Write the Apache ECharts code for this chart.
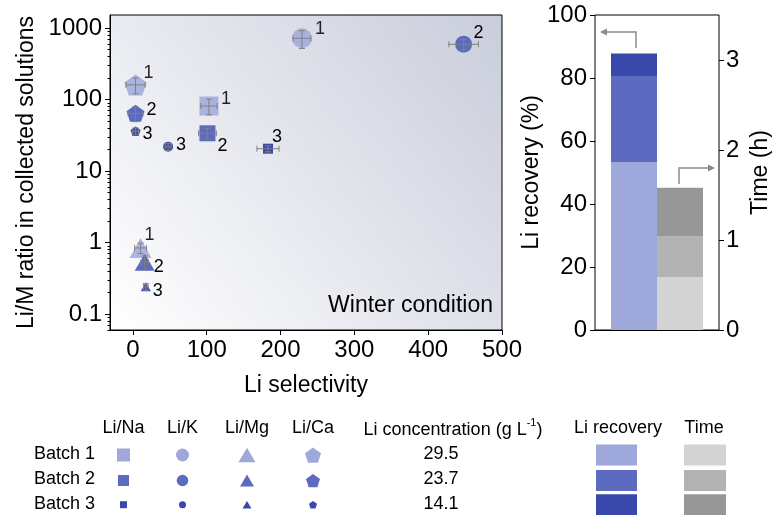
<!DOCTYPE html>
<html>
<head>
<meta charset="utf-8">
<script src="https://cdn.jsdelivr.net/npm/echarts@6/dist/echarts.min.js"></script>
<style>
html, body { margin: 0; padding: 0; background: #fff; }
#main { width: 773px; height: 515px; }
</style>
</head>
<body>
<div id="main"></div>
<script>
// ---- data ----
var batches = ['Batch 1', 'Batch 2', 'Batch 3'];
var batchNumbers = ['1', '2', '3'];
var ratioNames = ['Li/Na', 'Li/K', 'Li/Mg', 'Li/Ca'];

var naSelectivity = [103, 101, 183];
var naRatio = [81, 33.7, 20.5];
var naSelErr = [11, 12, 15];
var naRatioErr = [20, 5.5, 2];

var kSelectivity = [229, 448, 47.7];
var kRatio = [718, 592, 21.9];
var kSelErr = [12, 20, 4];
var kRatioErr = [200, 100, 2.5];

var mgSelectivity = [10.4, 16, 17.5];
var mgRatio = [0.84, 0.53, 0.24];
var mgSelErr = [8, 5, 3];
var mgRatioErr = [0.14, 0.12, 0.025];

var caSelectivity = [3.6, 3.6, 3.6];
var caRatio = [160, 64, 36];
var caSelErr = [13, 10, 4];
var caRatioErr = [40, 15, 4];

var liConcentration = ['29.5', '23.7', '14.1'];
var liRecovery = [53.3, 27.3, 7.2];
var timeHours = [0.59, 0.45, 0.54];

var xTickValues = [0, 100, 200, 300, 400, 500];
var yTickValues = [0.1, 1, 10, 100, 1000];
var recoveryTicks = [0, 20, 40, 60, 80, 100];
var timeTickValues = [0, 1, 2, 3];

// ---- styles ----
var FONT = 'Liberation Sans, Arial, sans-serif';
var batchColors = ['#9fa8da', '#5c6bc0', '#3949ab'];
var timeColors = ['#d3d3d3', '#b3b3b3', '#979797'];
var pentagon = 'path://M0,-1L0.951,-0.309L0.588,0.809L-0.588,0.809L-0.951,-0.309Z';

var groups = [
	{ name : ratioNames[0], symbol : 'rect', sel : naSelectivity, ratio : naRatio, selErr : naSelErr, ratioErr : naRatioErr,
	  sizes : [ 19, 16, 10 ], offsets : [ [ 17, -7 ], [ 15, 13 ], [ 9, -12 ] ] },
	{ name : ratioNames[1], symbol : 'circle', sel : kSelectivity, ratio : kRatio, selErr : kSelErr, ratioErr : kRatioErr,
	  sizes : [ 20, 17, 10 ], offsets : [ [ 18, -9 ], [ 15, -11 ], [ 13, -2 ] ] },
	{ name : ratioNames[2], symbol : 'triangle', sel : mgSelectivity, ratio : mgRatio, selErr : mgSelErr, ratioErr : mgRatioErr,
	  sizes : [ [ 22, 20 ], [ 20, 17 ], [ 10, 9 ] ], offsets : [ [ 9, -13 ], [ 14, 5 ], [ 12, 4 ] ] },
	{ name : ratioNames[3], symbol : pentagon, sel : caSelectivity, ratio : caRatio, selErr : caSelErr, ratioErr : caRatioErr,
	  sizes : [ [ 22, 21 ], [ 18, 17 ], [ 10, 9.5 ] ], offsets : [ [ 13, -12 ], [ 16, -3 ], [ 12, 3 ] ] }
];

var minorTicks = [];
[0.01, 0.1, 1, 10, 100].forEach(function(d) {
	for (var k = 2; k <= 9; k++) minorTicks.push(+(d * k).toPrecision(3));
});

var series = [];
var errData = [];
groups.forEach(function(g) {
	series.push({
		type : 'scatter',
		name : g.name,
		xAxisIndex : 0,
		yAxisIndex : 0,
		symbol : g.symbol,
		z : 2,
		data : g.sel.map(function(x, i) {
			errData.push([ x, g.ratio[i], g.selErr[i], g.ratioErr[i] ]);
			return {
				value : [ x, g.ratio[i] ],
				symbolSize : g.sizes[i],
				itemStyle : { color : batchColors[i], opacity : i === 0 ? 0.85 : 1 },
				label : {
					show : true,
					position : 'inside',
					offset : g.offsets[i],
					formatter : batchNumbers[i],
					color : '#000',
					fontSize : 18,
					fontFamily : FONT
				}
			};
		})
	});
});

series.push({
	type : 'custom',
	xAxisIndex : 0,
	yAxisIndex : 0,
	z : 3,
	silent : true,
	encode : { x : 0, y : 1 },
	data : errData,
	renderItem : function(params, api) {
		var x = api.value(0), y = api.value(1), ex = api.value(2), ey = api.value(3);
		var c = api.coord([ x, y ]);
		var l = api.coord([ x - ex, y ])[0], r = api.coord([ x + ex, y ])[0];
		var t = api.coord([ x, y + ey ])[1], b = api.coord([ x, y - ey ])[1];
		var cap = 3;
		var st = { stroke : '#808080', lineWidth : 1 };
		function ln(x1, y1, x2, y2) {
			return { type : 'line', shape : { x1 : x1, y1 : y1, x2 : x2, y2 : y2 }, style : st };
		}
		return {
			type : 'group',
			children : [
				ln(l, c[1], r, c[1]), ln(l, c[1] - cap, l, c[1] + cap), ln(r, c[1] - cap, r, c[1] + cap),
				ln(c[0], t, c[0], b), ln(c[0] - cap, t, c[0] + cap, t), ln(c[0] - cap, b, c[0] + cap, b)
			]
		};
	}
});

for (var i = 0; i < 3; i++) {
	series.push({
		type : 'bar',
		xAxisIndex : 1,
		yAxisIndex : 2,
		stack : 'recovery',
		barWidth : 46,
		barGap : '0%',
		itemStyle : { color : batchColors[i] },
		data : [ liRecovery[i] ]
	});
}
for (var j = 0; j < 3; j++) {
	series.push({
		type : 'bar',
		xAxisIndex : 1,
		yAxisIndex : 3,
		stack : 'time',
		barWidth : 46,
		barGap : '0%',
		itemStyle : { color : timeColors[j] },
		data : [ timeHours[j] ]
	});
}

// ---- legend table and annotations ----
var graphics = [];
var colX = [ 123.5, 182.5, 247, 313 ];
var rowY = [ 454, 479.5, 504 ];
var symY = [ 455, 480.5, 504.7 ];
var legendSizes = [ [ 13, 11, 7 ], [ 13, 11.5, 7 ], [ 17, 14, 9 ], [ 16, 14, 8 ] ];

function txt(x, y, s, align, size) {
	return { type : 'text', x : x, y : y, silent : true,
		style : { text : s, fill : '#000', font : (size || 18) + 'px ' + FONT, align : align || 'center', verticalAlign : 'middle' } };
}
function polyPts(cx, cy, w, h, n) {
	var pts = [];
	if (n === 3) return [ [ cx, cy - h / 2 ], [ cx + w / 2, cy + h / 2 ], [ cx - w / 2, cy + h / 2 ] ];
	for (var k = 0; k < 5; k++) {
		var a = -Math.PI / 2 + k * 2 * Math.PI / 5;
		pts.push([ cx + Math.cos(a) * w / 1.902, cy + 0.06 * h + Math.sin(a) * h / 1.809 ]);
	}
	return pts;
}

ratioNames.forEach(function(n, k) { graphics.push(txt(colX[k], 428, n)); });
graphics.push({ type : 'text', x : 453, y : 428, silent : true,
	style : { text : '{a|Li concentration (g L}{s|-1}{a|)}', align : 'center', verticalAlign : 'middle',
		rich : { a : { fontSize : 18, fontFamily : FONT, color : '#000', lineHeight : 22, verticalAlign : 'bottom' },
			s : { fontSize : 11, fontFamily : FONT, color : '#000', verticalAlign : 'top', lineHeight : 22 } } } });
graphics.push(txt(618, 428, 'Li recovery'));
graphics.push(txt(704, 428, 'Time'));

batches.forEach(function(b, i) {
	var y = symY[i], c = batchColors[i];
	graphics.push(txt(34, rowY[i], b, 'left'));
	var s = legendSizes[0][i];
	graphics.push({ type : 'rect', silent : true, shape : { x : colX[0] - s / 2, y : y - s / 2, width : s, height : s }, style : { fill : c } });
	graphics.push({ type : 'circle', silent : true, shape : { cx : colX[1], cy : y, r : legendSizes[1][i] / 2 }, style : { fill : c } });
	var tw = legendSizes[2][i];
	graphics.push({ type : 'polygon', silent : true, shape : { points : polyPts(colX[2], y, tw, tw * 0.85, 3) }, style : { fill : c } });
	var pw = legendSizes[3][i];
	graphics.push({ type : 'polygon', silent : true, shape : { points : polyPts(colX[3], y, pw, pw * 0.95, 5) }, style : { fill : c } });
	graphics.push(txt(441, rowY[i], liConcentration[i]));
	graphics.push({ type : 'rect', silent : true, shape : { x : 596, y : y - 10.5, width : 41, height : 21 }, style : { fill : c } });
	graphics.push({ type : 'rect', silent : true, shape : { x : 684, y : y - 10.5, width : 42, height : 21 }, style : { fill : timeColors[i] } });
});

graphics.push(txt(493, 306, 'Winter condition', 'right', 23));

var arrowColor = '#8c8c8c';
graphics.push({ type : 'polyline', silent : true, shape : { points : [ [ 636, 48 ], [ 636, 32 ], [ 606, 32 ] ] },
	style : { stroke : arrowColor, lineWidth : 1.5, fill : null } });
graphics.push({ type : 'polygon', silent : true, shape : { points : [ [ 600, 32 ], [ 607, 28.5 ], [ 607, 35.5 ] ] }, style : { fill : arrowColor } });
graphics.push({ type : 'polyline', silent : true, shape : { points : [ [ 679, 184 ], [ 679, 168 ], [ 709, 168 ] ] },
	style : { stroke : arrowColor, lineWidth : 1.5, fill : null } });
graphics.push({ type : 'polygon', silent : true, shape : { points : [ [ 715, 168 ], [ 708, 164.5 ], [ 708, 171.5 ] ] }, style : { fill : arrowColor } });

// ---- chart ----
var axisText = { color : '#000', fontSize : 23, fontFamily : FONT };
var tickText = { color : '#000', fontSize : 24, fontFamily : FONT };
var blackLine = { onZero : false, lineStyle : { color : '#000', width : 1 } };

var option = {
	animation : false,
	backgroundColor : '#fff',
	textStyle : { fontFamily : FONT },
	grid : [ {
		left : 110, top : 15, width : 392, height : 315,
		show : true, borderColor : '#000', borderWidth : 1,
		backgroundColor : new echarts.graphic.LinearGradient(0, 1, 1, 0, [
			{ offset : 0, color : '#ffffff' },
			{ offset : 1, color : '#c9cddb' } ])
	}, {
		left : 595, top : 15, width : 126, height : 315,
		show : true, borderColor : '#000', borderWidth : 1
	} ],
	xAxis : [ {
		type : 'value', gridIndex : 0, min : -31, max : 500,
		name : 'Li selectivity', nameLocation : 'middle', nameGap : 44,
		nameTextStyle : axisText,
		axisLine : blackLine,
		axisTick : { show : true, length : 5, customValues : xTickValues, lineStyle : { color : '#000' } },
		axisLabel : Object.assign({ customValues : xTickValues, margin : 8 }, tickText),
		splitLine : { show : false }
	}, {
		type : 'category', gridIndex : 1, data : [ '' ],
		axisLine : blackLine,
		axisTick : { show : false },
		axisLabel : { show : false },
		splitLine : { show : false }
	} ],
	yAxis : [ {
		type : 'log', gridIndex : 0, position : 'left', logBase : 10, min : 0.0597, max : 1520,
		name : 'Li/M ratio in collected solutions', nameLocation : 'middle', nameRotate : 90, nameGap : 63,
		nameTextStyle : axisText,
		axisLine : blackLine,
		axisTick : { show : true, length : 5, customValues : yTickValues, lineStyle : { color : '#000' } },
		axisLabel : Object.assign({ customValues : yTickValues, margin : 8,
			formatter : function(v) { return String(+v.toPrecision(3)); } }, tickText),
		splitLine : { show : false }
	}, {
		type : 'log', gridIndex : 0, position : 'left', logBase : 10, min : 0.0597, max : 1520,
		axisLine : { show : false, onZero : false },
		axisTick : { show : true, length : 2.5, customValues : minorTicks, lineStyle : { color : '#000' } },
		axisLabel : { show : false },
		splitLine : { show : false }
	}, {
		type : 'value', gridIndex : 1, position : 'left', min : 0, max : 100, interval : 20,
		name : 'Li recovery (%)', nameLocation : 'middle', nameRotate : 90, nameGap : 37,
		nameTextStyle : axisText,
		axisLine : blackLine,
		axisTick : { show : true, length : 5, customValues : recoveryTicks, lineStyle : { color : '#000' } },
		axisLabel : Object.assign({ customValues : recoveryTicks, margin : 8 }, tickText),
		splitLine : { show : false }
	}, {
		type : 'value', gridIndex : 1, position : 'right', min : 0, max : 3.5,
		name : 'Time (h)', nameLocation : 'middle', nameRotate : 90, nameGap : 30,
		nameTextStyle : axisText,
		axisLine : blackLine,
		axisTick : { show : true, length : 5, customValues : timeTickValues, lineStyle : { color : '#000' } },
		axisLabel : Object.assign({ customValues : timeTickValues, margin : 7 }, tickText),
		splitLine : { show : false }
	} ],
	series : series,
	graphic : graphics
};

var chart = echarts.init(document.getElementById('main'), null, { renderer : 'canvas' });
chart.setOption(option);
</script>
</body>
</html>
